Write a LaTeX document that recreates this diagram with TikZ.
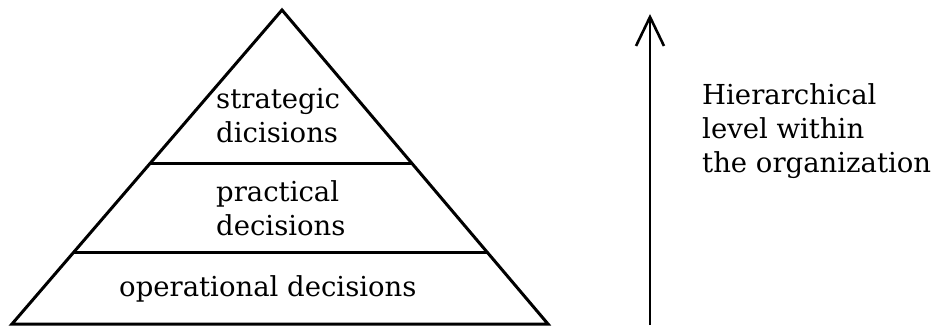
\documentclass[tikz,border=0pt]{standalone}
\usepackage{fontspec}
\setmainfont{DejaVu Serif}
\usetikzlibrary{arrows.meta}

\begin{document}
\begin{tikzpicture}[
                x={(1pt,0pt)}, y={(0pt,-1pt)},
                layer/.style={line width=3pt, line join=miter},
                levelarrow/.style={line width=2.8pt, -{Straight Barb[length=29pt, width=28pt, line width=2.6pt]}},
                label/.style={font=\fontsize{27.5}{34}\selectfont, align=left, inner sep=0pt}
            ]

            \useasboundingbox (0,0) rectangle (932,331);

            \coordinate (A) at (282,10);
            \coordinate (L) at (12,324);
            \coordinate (R) at (548,324);

            \draw[layer] (L) -- (A) -- (R) -- cycle;

            \coordinate (L1) at (150,164);
            \coordinate (R1) at (412,164);
            \coordinate (L2) at (73,253);
            \coordinate (R2) at (488,253);
            \draw[layer] (L1) -- (R1);
            \draw[layer] (L2) -- (R2);

            \node[label, anchor=north west] (strategic) at (216,88) {strategic\\dicisions};
            \node[label, anchor=north west] (practical) at (216,180) {practical\\decisions};
            \node[label, anchor=base west] (operational) at (119,296) {operational decisions};

            \coordinate (B) at (650,325);
            \coordinate (T) at (650,14);
            \draw[levelarrow] (B) -- (T);

            \node[label, anchor=north west] (hierarchy) at (702,83) {Hierarchical\\level within\\the organization};

        \end{tikzpicture}
\end{document}
